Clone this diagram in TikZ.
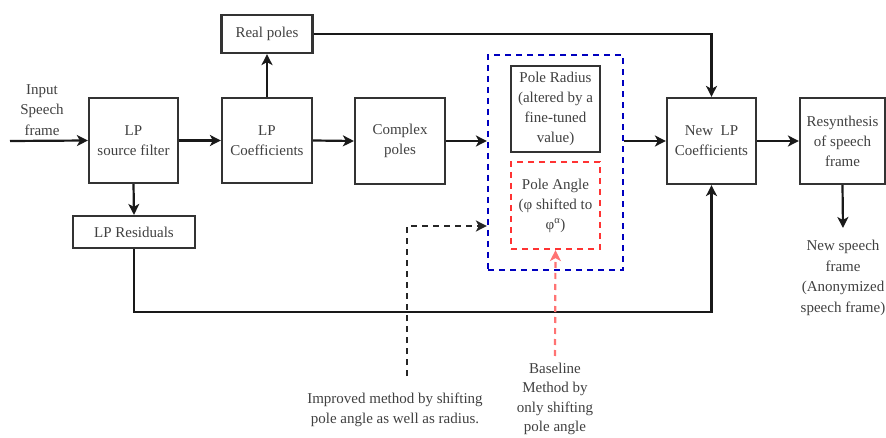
\documentclass[tikz,border=0pt]{standalone}
\usepackage{fontspec}
\setmainfont{Liberation Serif}
\usetikzlibrary{arrows.meta}
\begin{document}
\begin{tikzpicture}[x=1pt,y=-1pt,
  box/.style={draw=black!80,line width=2.2pt,align=center,inner sep=0pt,font=\fontsize{15}{20}\selectfont,text=black!75},
  txt/.style={align=center,inner sep=0pt,font=\fontsize{15}{20.5}\selectfont,text=black!75},
  tip/.style={-{Stealth[length=11pt,width=11pt,inset=3pt]}},
  arr/.style={line width=2.2pt,draw=black!90,tip},
  dsh/.style={dashed,dash pattern=on 6pt off 5pt}]
\useasboundingbox (0,0) rectangle (886,438);
% boxes
\node[box,minimum width=89pt,minimum height=85pt] (src) at (133.5,140.5) {LP\\source filter};
\node[box,minimum width=90pt,minimum height=85pt] (lpc) at (267,140.5) {LP\\Coefficients};
\node[box,minimum width=91pt,minimum height=38pt] (real) at (267,34) {Real poles};
\node[box,minimum width=122pt,minimum height=32pt] (res) at (134,232) {LP Residuals};
\node[box,minimum width=90pt,minimum height=86pt] (cpx) at (400,141) {Complex\\poles};
\node[draw=blue!75!black,dsh,line width=2.2pt,minimum width=135pt,minimum height=215pt,inner sep=0pt] (blue) at (555.5,162.5) {};
\node[box,minimum width=89pt,minimum height=86pt] (rad) at (555.5,109) {Pole Radius\\(altered by a\\fine-tuned\\value)};
\node[box,draw=red!80,dsh,minimum width=89pt,minimum height=87pt] (ang) at (555.5,205.5) {Pole Angle\\(φ shifted to\\φ\textsuperscript{α})};
\node[box,minimum width=89pt,minimum height=86pt] (new) at (711.5,141) {New\ \ LP\\Coefficients};
\node[box,minimum width=85pt,minimum height=86pt] (syn) at (842.5,141) {Resynthesis\\of speech\\frame};
% texts
\node[txt] (inp) at (42,110) {Input\\Speech\\frame};
\node[txt] (out) at (843,278) {New speech\\frame\\(Anonymized\\speech frame)};
\node[txt] (imp) at (395,410) {Improved method by shifting\\pole angle as well as radius.};
\node[txt,font=\fontsize{15}{19.5}\selectfont] (base) at (555,399) {Baseline\\Method by\\only shifting\\pole angle};
\coordinate (instart) at (10,141);
\coordinate (outend) at (843,228);
\coordinate (impstart) at (407,376);
\coordinate (basestart) at (555,356);
% connectors
\draw[arr] (instart) -- (src.west);
\draw[arr] (src.east) -- (lpc.west);
\draw[arr] (lpc.north) -- (real.south);
\draw[arr] (src.south) -- (res.north);
\draw[arr] (lpc.east) -- (cpx.west);
\draw[arr] (cpx.east) -- (cpx.east -| blue.west);
\draw[arr] (new.west -| blue.east) -- (new.west);
\draw[arr] (new.east) -- (syn.west);
\draw[arr] (real.east) -| (new.north);
\draw[arr] (res.south) |- (422,312) -| (new.south);
\draw[arr] (syn.south) -- (outend);
\draw[line width=2.2pt,draw=black!85,dsh,tip] (impstart) |- (blue.west |- 0,226);
\draw[line width=2.2pt,draw=red!55,dsh,tip] (basestart) -- (ang.south);
\end{tikzpicture}
\end{document}
